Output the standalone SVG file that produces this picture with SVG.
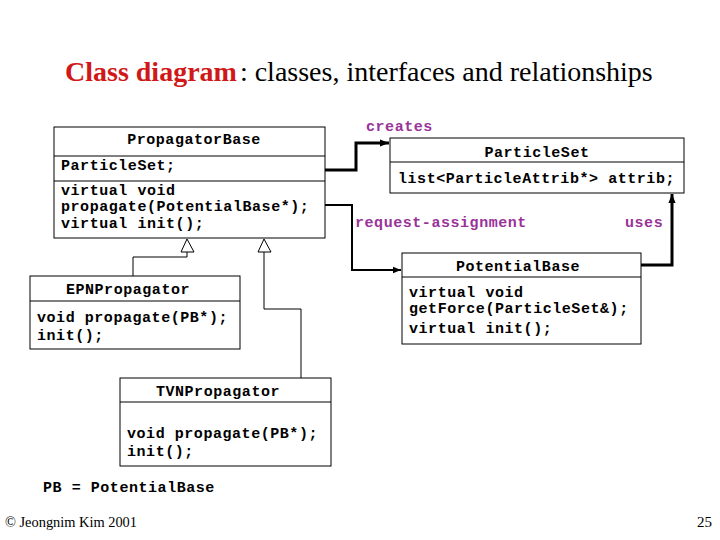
<svg xmlns="http://www.w3.org/2000/svg" width="720" height="540" viewBox="0 0 720 540">
<style>
.box{fill:#fff;stroke:#000;stroke-width:1}
.t{font-family:"Liberation Mono","Courier New",monospace;font-size:15px;letter-spacing:0.55px;font-weight:bold;fill:#000}
.c{text-anchor:middle}
.lbl{font-family:"Liberation Mono","Courier New",monospace;font-size:15px;letter-spacing:0.55px;font-weight:bold;fill:#993399}
.assoc{fill:none;stroke:#000;stroke-width:3}
.inh{fill:none;stroke:#000;stroke-width:1}
.tri{fill:#fff;stroke:#000;stroke-width:1}
</style>
<defs>
<marker id="ah" viewBox="0 0 10 10" refX="10" refY="5" markerWidth="3" markerHeight="3" orient="auto" markerUnits="strokeWidth">
<path d="M0,1 L10,5 L0,9 z" fill="#000"/>
</marker>
<marker id="ah2" viewBox="0 0 10 10" refX="10" refY="5" markerWidth="4" markerHeight="4" orient="auto" markerUnits="strokeWidth">
<path d="M0,1 L10,5 L0,9 z" fill="#000"/>
</marker>
</defs>
<rect width="720" height="540" fill="#fff"/>
<text x="65" y="81" font-family="'Liberation Serif','Times New Roman',serif" font-size="28"><tspan font-weight="bold" fill="#d01818">Class diagram</tspan><tspan fill="#000" dx="3">: classes, interfaces and relationships</tspan></text>

<g id="connectors">
<polyline class="assoc" points="325,170 356,170 356,143 389,143" marker-end="url(#ah)"/>
<polyline class="assoc" style="stroke-width:2" points="317,205 352,205 352,270 401,270" marker-end="url(#ah2)"/>
<polyline class="assoc" points="641,265 672,265 672,194" marker-end="url(#ah)"/>
<polyline class="inh" points="187,252 187,257 133,257 133,276"/>
<polyline class="inh" points="264,252 264,309 301,309 301,378"/>
<polygon class="tri" points="187,239 181,252 194,252"/>
<polygon class="tri" points="264,239 258,252 271,252"/>
<text class="lbl" x="366" y="131">creates</text>
<text class="lbl" x="355" y="227">request-assignment</text>
<text class="lbl" x="625" y="227">uses</text>
</g>

<g id="PropagatorBase">
<rect class="box" x="54" y="127" width="271" height="111"/>
<line x1="54" y1="156" x2="325" y2="156" stroke="#000"/>
<line x1="54" y1="181" x2="325" y2="181" stroke="#000"/>
<text class="t c" x="194" y="144">PropagatorBase</text>
<text class="t" x="61" y="170">ParticleSet;</text>
<text class="t" x="61" y="195">virtual void</text>
<text class="t" x="61" y="211">propagate(PotentialBase*);</text>
<text class="t" x="61" y="228">virtual init();</text>
</g>

<g id="ParticleSet">
<rect class="box" x="390" y="138" width="294" height="55"/>
<line x1="390" y1="162" x2="684" y2="162" stroke="#000"/>
<text class="t c" x="537" y="157">ParticleSet</text>
<text class="t" x="398" y="183">list&lt;ParticleAttrib*&gt; attrib;</text>
</g>

<g id="PotentialBase">
<rect class="box" x="402" y="253" width="239" height="91"/>
<line x1="402" y1="277" x2="641" y2="277" stroke="#000"/>
<text class="t c" x="518" y="271">PotentialBase</text>
<text class="t" x="409" y="297">virtual void</text>
<text class="t" x="409" y="313">getForce(ParticleSet&amp;);</text>
<text class="t" x="409" y="333">virtual init();</text>
</g>

<g id="EPNPropagator">
<rect class="box" x="30" y="276" width="210" height="73"/>
<line x1="30" y1="301" x2="240" y2="301" stroke="#000"/>
<text class="t c" x="128" y="294">EPNPropagator</text>
<text class="t" x="37" y="322">void propagate(PB*);</text>
<text class="t" x="37" y="340">init();</text>
</g>

<g id="TVNPropagator">
<rect class="box" x="120" y="378" width="211" height="88"/>
<line x1="120" y1="402" x2="331" y2="402" stroke="#000"/>
<text class="t c" x="218" y="396">TVNPropagator</text>
<text class="t" x="127" y="438">void propagate(PB*);</text>
<text class="t" x="127" y="456">init();</text>
</g>

<text class="t" x="43" y="492">PB = PotentialBase</text>
<text x="5" y="527" font-family="'Liberation Serif','Times New Roman',serif" font-size="15" textLength="132" lengthAdjust="spacingAndGlyphs">© Jeongnim Kim 2001</text>
<text x="712" y="527" text-anchor="end" font-family="'Liberation Serif','Times New Roman',serif" font-size="15">25</text>
</svg>
